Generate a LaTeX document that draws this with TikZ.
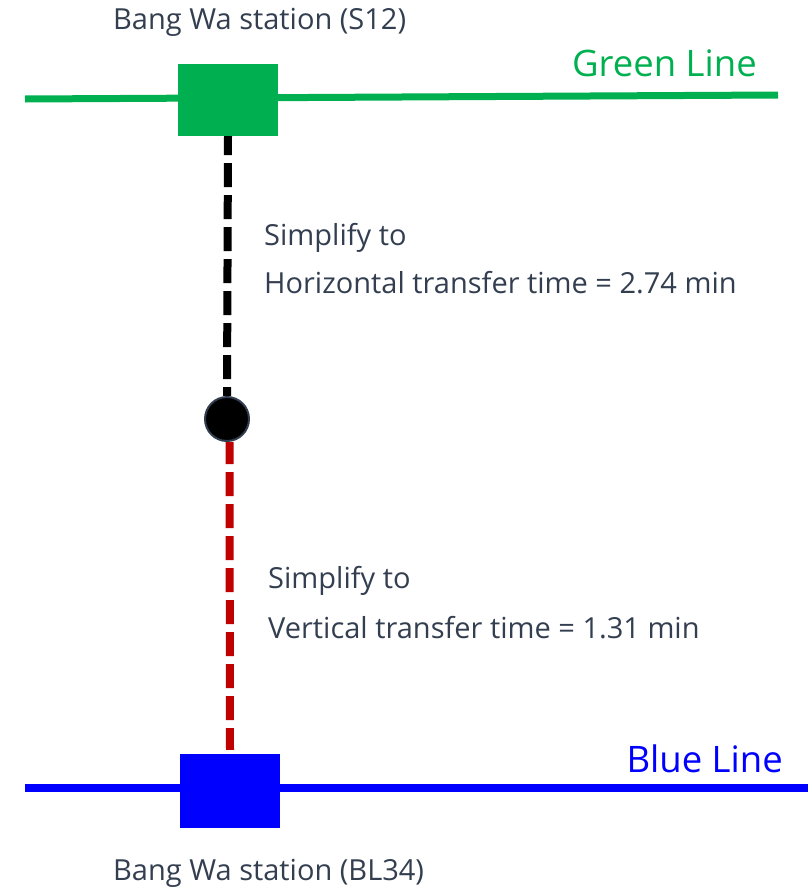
\documentclass[tikz,border=0pt]{standalone}
\usepackage{fontspec}
\setmainfont{Open Sans}
\definecolor{gline}{HTML}{00B050}
\definecolor{bline}{HTML}{0000FF}
\definecolor{rline}{HTML}{C00000}
\definecolor{txt}{HTML}{333F50}
\begin{document}
\begin{tikzpicture}[x=1pt,y=-1pt,
  lbl/.style={text=txt,font=\fontsize{29}{34}\selectfont,anchor=base west,inner sep=0pt},
  linelbl/.style={font=\fontsize{36.5}{42}\selectfont,anchor=base east,inner sep=0pt},
  stationbox/.style={draw=none,inner sep=0pt},
  transfer/.style={line width=8pt,dash pattern=on 24pt off 8pt}]
\useasboundingbox (0,0) rectangle (808,889);
% lines
\coordinate (gl) at (25,99);
\coordinate (gr) at (778,95);
\coordinate (bl) at (25,788);
\coordinate (br) at (808,788);
\draw[gline,line width=7pt] (gl) -- (gr);
\draw[bline,line width=8pt] (bl) -- (br);
% stations
\node[stationbox,fill=gline,minimum width=100pt,minimum height=72pt] (gs) at (228,100) {};
\node[stationbox,fill=bline,minimum width=100pt,minimum height=74pt] (bs) at (230,791) {};
% junction
\node[circle,fill=black,draw=txt,line width=2pt,minimum size=44pt,inner sep=0pt] (j) at (227,419) {};
% transfers
\coordinate (rtop) at ([xshift=2.5pt]j.south);
\coordinate (rend) at ([yshift=4pt]bs.north);
\draw[transfer,black,dash phase=5pt] (gs.south) -- (j.north);
\draw[transfer,rline,dash phase=2pt] (rtop) -- (rend);
% labels
\node[lbl] (t1) at (113,29) {Bang Wa station (S12)};
\node[lbl] (t2) at (113,880) {Bang Wa station (BL34)};
\node[linelbl,text=gline] (gname) at (757,76) {Green Line};
\node[linelbl,text=bline] (bname) at (783,772) {Blue Line};
\node[lbl] (h1) at (264,245) {Simplify to};
\node[lbl] (h2) at (264,293) {Horizontal transfer time = 2.74 min};
\node[lbl] (v1) at (268,588) {Simplify to};
\node[lbl] (v2) at (268,638) {Vertical transfer time = 1.31 min};
\end{tikzpicture}
\end{document}
